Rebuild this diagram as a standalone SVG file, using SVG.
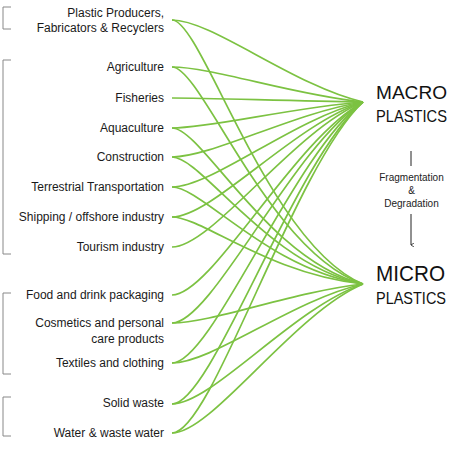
<svg xmlns="http://www.w3.org/2000/svg" width="464" height="462" viewBox="0 0 464 462">
<style>
.lbl{font-family:"Liberation Sans",Arial,sans-serif;font-size:12px;fill:#1a1a1a;text-anchor:end}
.big{font-family:"Liberation Sans",Arial,sans-serif;fill:#111}
.sm{font-family:"Liberation Sans",Arial,sans-serif;font-size:10px;fill:#222;text-anchor:middle}
.br{fill:none;stroke:#888;stroke-width:1}
.c{fill:none;stroke:#7cc242;stroke-width:1.7}
</style>
<defs>
<marker id="ah" markerWidth="4" markerHeight="4" refX="2" refY="3" orient="auto" markerUnits="userSpaceOnUse"><path d="M0,0 L2,3 L4,0" fill="none" stroke="#222" stroke-width="0.8"/></marker>
</defs>
<rect width="464" height="462" fill="#fff"/>
<g id="brackets">
<path class="br" d="M11,7 H3 V29 H11"/>
<path class="br" d="M11,60 H3 V254 H11"/>
<path class="br" d="M11,293 H3 V374 H11"/>
<path class="br" d="M11,397 H3 V436 H11"/>
</g>
<g id="connectors">
<path class="c" d="M172,20 C212,20 293,85.6 363,102"/>
<path class="c" d="M172,67 C212,67 293,95 363,102"/>
<path class="c" d="M172,98 C212,98 293,101.2 363,102"/>
<path class="c" d="M172,128 C212,128 293,107.2 363,102"/>
<path class="c" d="M172,157 C212,157 293,113 363,102"/>
<path class="c" d="M172,187 C212,187 293,119 363,102"/>
<path class="c" d="M172,217 C212,217 293,125 363,102"/>
<path class="c" d="M172,247 C212,247 293,131 363,102"/>
<path class="c" d="M172,295 C212,295 293,140.6 363,102"/>
<path class="c" d="M172,323 C212,323 293,146.2 363,102"/>
<path class="c" d="M172,363 C212,363 293,154.2 363,102"/>
<path class="c" d="M172,404 C212,404 293,162.4 363,102"/>
<path class="c" d="M172,433 C212,433 293,168.2 363,102"/>
<path class="c" d="M172,20 C202,20 268,244.4 363,284"/>
<path class="c" d="M172,67 C202,67 268,251.4 363,284"/>
<path class="c" d="M172,128 C202,128 268,260.6 363,284"/>
<path class="c" d="M172,157 C202,157 268,265 363,284"/>
<path class="c" d="M172,187 C202,187 268,269.4 363,284"/>
<path class="c" d="M172,217 C202,217 268,274 363,284"/>
<path class="c" d="M172,323 C212,323 293,291.8 363,284"/>
<path class="c" d="M172,363 C212,363 293,299.8 363,284"/>
<path class="c" d="M172,404 C212,404 293,308 363,284"/>
<path class="c" d="M172,433 C212,433 293,313.8 363,284"/>
</g>
<g id="sources">
<g id="n-producers"><text class="lbl" x="164" y="16.5">Plastic Producers,</text><text class="lbl" x="164" y="32">Fabricators &amp; Recyclers</text></g>
<g id="n-agriculture"><text class="lbl" x="164" y="71">Agriculture</text></g>
<g id="n-fisheries"><text class="lbl" x="164" y="102">Fisheries</text></g>
<g id="n-aquaculture"><text class="lbl" x="164" y="132">Aquaculture</text></g>
<g id="n-construction"><text class="lbl" x="164" y="161">Construction</text></g>
<g id="n-terrestrial"><text class="lbl" x="164" y="191">Terrestrial Transportation</text></g>
<g id="n-shipping"><text class="lbl" x="164" y="221">Shipping / offshore industry</text></g>
<g id="n-tourism"><text class="lbl" x="164" y="251">Tourism industry</text></g>
<g id="n-food"><text class="lbl" x="164" y="299">Food and drink packaging</text></g>
<g id="n-cosmetics"><text class="lbl" x="164" y="327">Cosmetics and personal</text><text class="lbl" x="164" y="343">care products</text></g>
<g id="n-textiles"><text class="lbl" x="164" y="367">Textiles and clothing</text></g>
<g id="n-solid"><text class="lbl" x="164" y="407">Solid waste</text></g>
<g id="n-water"><text class="lbl" x="164" y="437">Water &amp; waste water</text></g>
</g>
<g id="n-macro">
<text class="big" x="376" y="99" font-size="19" textLength="71" lengthAdjust="spacingAndGlyphs">MACRO</text>
<text class="big" x="376" y="122" font-size="17" textLength="71" lengthAdjust="spacingAndGlyphs">PLASTICS</text>
</g>
<g id="n-process">
<line x1="411" y1="151" x2="411" y2="166" stroke="#222" stroke-width="1"/>
<text class="sm" x="411.5" y="181">Fragmentation</text>
<text class="sm" x="411.5" y="194">&amp;</text>
<text class="sm" x="411.5" y="207">Degradation</text>
<line x1="411" y1="214" x2="411" y2="245" stroke="#222" stroke-width="1" marker-end="url(#ah)"/>
</g>
<g id="n-micro">
<text class="big" x="376" y="281" font-size="22" textLength="69" lengthAdjust="spacingAndGlyphs">MICRO</text>
<text class="big" x="376" y="304" font-size="17" textLength="70" lengthAdjust="spacingAndGlyphs">PLASTICS</text>
</g>
</svg>
